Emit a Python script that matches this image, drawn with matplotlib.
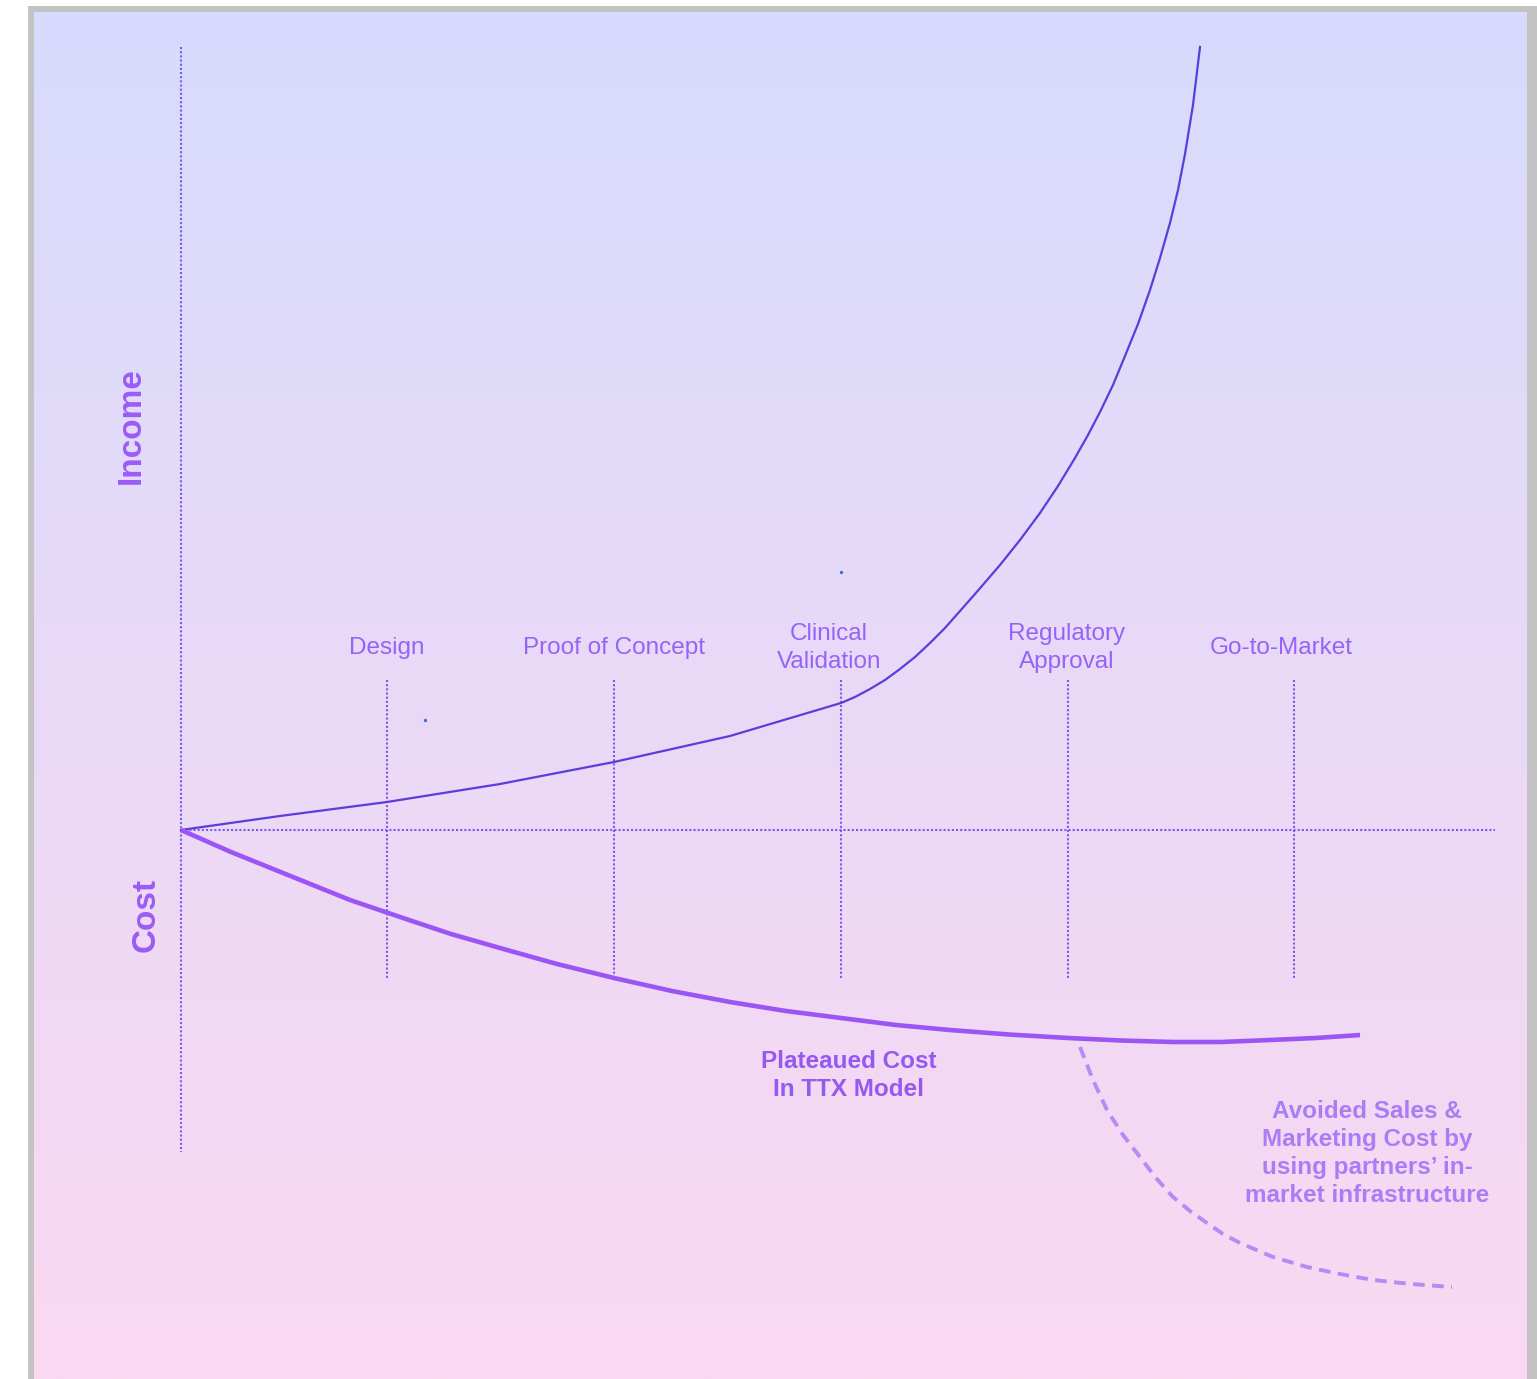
import numpy as np
import matplotlib.pyplot as plt
from matplotlib.patches import Rectangle

plt.rcParams['font.family'] = ['Liberation Sans', 'DejaVu Sans']

# stage positions (time axis) and labels
stages = ['Design', 'Proof of Concept', 'Clinical\nValidation', 'Regulatory\nApproval', 'Go-to-Market']
stage_x = [2.06, 4.33, 6.60, 8.87, 11.13]
label_x = [2.06, 4.33, 6.48, 8.86, 11.00]

# income curve (above the baseline)
income_x = [0, 0.99, 2.06, 3.19, 4.33, 5.49, 6.60, 6.74, 6.89, 7.04, 7.19, 7.34, 7.49,
            7.64, 7.79, 7.94, 8.19, 8.39, 8.59, 8.77, 8.94, 9.07, 9.19, 9.32, 9.44,
            9.57, 9.69, 9.79, 9.89, 9.97, 10.04, 10.12, 10.19]
income_y = [0, 0.14, 0.28, 0.46, 0.68, 0.94, 1.27, 1.33, 1.41, 1.50, 1.61, 1.73, 1.87,
            2.02, 2.19, 2.36, 2.65, 2.90, 3.17, 3.44, 3.72, 3.95, 4.18, 4.45, 4.74,
            5.06, 5.40, 5.72, 6.07, 6.40, 6.76, 7.25, 7.83]

# plateaued cost curve (below the baseline)
cost_x = [0, 0.50, 1.02, 1.69, 2.22, 2.70, 3.19, 3.76, 4.33, 4.91, 5.49, 6.05, 6.60,
          7.15, 7.69, 8.28, 8.87, 9.40, 9.92, 10.40, 10.89, 11.35, 11.79]
cost_y = [0, -0.22, -0.43, -0.70, -0.88, -1.04, -1.18, -1.34, -1.48, -1.61, -1.72,
          -1.81, -1.88, -1.95, -2.00, -2.045, -2.08, -2.105, -2.12, -2.12, -2.10,
          -2.08, -2.05]

# avoided sales & marketing cost (dashed)
avoided_x = [8.99, 9.12, 9.26, 9.42, 9.59, 9.75, 9.92, 10.09, 10.26, 10.42, 10.59,
             10.92, 11.26, 11.59, 11.92, 12.30, 12.71]
avoided_y = [-2.17, -2.50, -2.80, -3.05, -3.27, -3.48, -3.67, -3.81, -3.93, -4.04,
             -4.13, -4.27, -4.37, -4.44, -4.50, -4.54, -4.57]

# stray points in the original
dots_x = [2.44, 6.60]
dots_y = [1.10, 2.58]

fig = plt.figure(figsize=(15.37, 13.79), dpi=100)

# background: grey frame + vertical gradient panel (pixel coordinates)
bg = fig.add_axes([0, 0, 1, 1])
bg.axis('off')
bg.add_patch(Rectangle((28, 6), 1509, 1373, color='#c3c3c3', lw=0, zorder=1))
top = np.array([215, 219, 253]) / 255
bot = np.array([251, 216, 241]) / 255
t = np.linspace(0, 1, 256)[:, None]
grad = (top[None, :] * (1 - t) + bot[None, :] * t)[:, None, :]
bg.imshow(grad, extent=(34, 1527, 1379, 12), aspect='auto', interpolation='bilinear',
          zorder=2)
bg.set_xlim(0, 1537)
bg.set_ylim(1379, 0)

ax = fig.add_axes([0, 0, 1, 1])
ax.patch.set_alpha(0)
ax.set_xlim(-1.81, 13.56)
ax.set_ylim(-5.49, 8.30)
ax.axis('off')

dot_col = '#8355ef'
dotted = (0, (1, 1))
ax.plot([0, 0], [7.83, -3.22], color=dot_col, lw=1.5, ls=dotted)
ax.plot([0, 13.14], [0, 0], color=dot_col, lw=1.5, ls=dotted)
for sx in stage_x:
    ax.plot([sx, sx], [1.5, -1.5], color=dot_col, lw=1.5, ls=dotted)

for lx, s in zip(label_x, stages):
    ax.text(lx, 1.82, s, ha='center', va='center', fontsize=17.5,
            color='#9663f6', linespacing=1.3)

ax.plot(income_x, income_y, color='#5a3ddb', lw=1.6, solid_joinstyle='round')
ax.plot(cost_x, cost_y, color='#9b55f5', lw=3.3, solid_capstyle='butt',
        solid_joinstyle='round')
ax.plot(avoided_x, avoided_y, color='#b88af5', lw=2.8, ls=(0, (3, 1.9)))
ax.scatter(dots_x, dots_y, s=2, color='#3b6fe0', zorder=5)

ax.text(-0.50, 4.04, 'Income', rotation=90, ha='center', va='center',
        fontsize=24, fontweight='bold', color='#9b5cf5')
ax.text(-0.35, -0.85, 'Cost', rotation=90, ha='center', va='center',
        fontsize=24, fontweight='bold', color='#9b5cf5')

ax.text(6.68, -2.455, 'Plateaued Cost\nIn TTX Model', ha='center', va='center',
        fontsize=17.5, fontweight='bold', color='#9558f0', linespacing=1.3)
ax.text(11.86, -3.235, 'Avoided Sales &\nMarketing Cost by\nusing partners\u2019 in-\nmarket infrastructure',
        ha='center', va='center', fontsize=17.5, fontweight='bold', color='#ab7df5',
        linespacing=1.28)

plt.savefig('out.png', dpi=100)
